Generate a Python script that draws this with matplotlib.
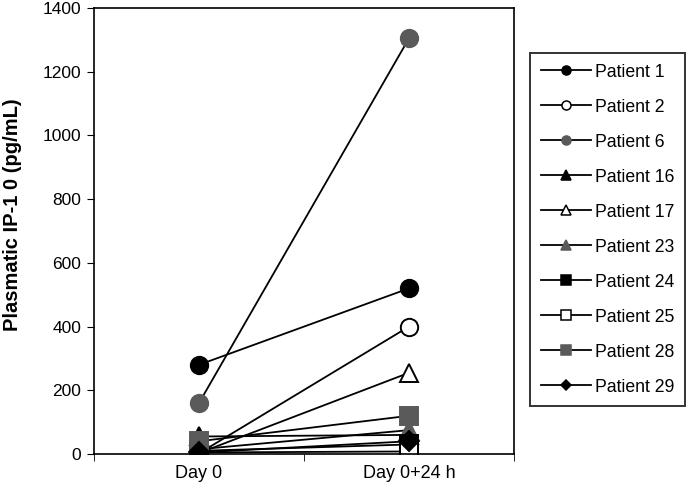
import matplotlib
matplotlib.use("Agg")
import matplotlib.pyplot as plt
from matplotlib.lines import Line2D

plt.rcParams['font.family'] = ['Liberation Sans', 'DejaVu Sans']

days = ["Day 0", "Day 0+24 h"]
patients = ["Patient 1", "Patient 2", "Patient 6", "Patient 16", "Patient 17",
            "Patient 23", "Patient 24", "Patient 25", "Patient 28", "Patient 29"]
day0 = [280, 2, 160, 55, 3, 15, 10, 5, 40, 5]
day24 = [520, 400, 1305, 60, 255, 75, 30, 8, 120, 40]

# marker, face colour
styles = [("o", "black"), ("o", "white"), ("o", "#5a5a5a"),
          ("^", "black"), ("^", "white"), ("^", "#5a5a5a"),
          ("s", "black"), ("s", "white"), ("s", "#5a5a5a"),
          ("D", "black")]

fig = plt.figure(figsize=(6.89, 4.86), dpi=100)
ax = fig.add_axes([0.1364, 0.0658, 0.6096, 0.9177])

x = [0, 1]
handles = []
for i, name in enumerate(patients):
    m, fc = styles[i]
    ms = 10 if m == "D" else 12.5
    ec = "black" if fc != "#5a5a5a" else "#5a5a5a"
    ax.plot(x, [day0[i], day24[i]], color="black", lw=1.3, marker=m, ms=ms,
            mfc=fc, mec=ec, mew=1.4)
    handles.append(Line2D([0], [0], color="black", lw=1.3, marker=m,
                          ms=5.5 if m == "D" else 6.5, mfc=fc, mec=ec, mew=1.1,
                          label=name))

ax.set_xlim(-0.5, 1.5)
ax.set_ylim(0, 1400)
ax.set_yticks(range(0, 1401, 200))
ax.set_xticks(x)
ax.set_xticklabels(days)
ax.set_xticks([-0.5, 0.5, 1.5], minor=True)
ax.tick_params(axis="x", which="major", length=0, labelsize=13, pad=8)
ax.tick_params(axis="x", which="minor", length=5, direction="out")
ax.tick_params(axis="y", labelsize=12.5, length=5, direction="out", pad=4)
ax.set_ylabel("Plasmatic IP-1 0 (pg/mL)", fontsize=14.5, fontweight="bold")
ax.yaxis.set_label_coords(-0.172, 0.536)
for s in ax.spines.values():
    s.set_linewidth(1.2)

leg = fig.legend(handles=handles, loc="upper left",
                 bbox_to_anchor=(530 / 689, 1 - 53 / 486), frameon=True,
                 fancybox=False, edgecolor="black", fontsize=12.7,
                 handlelength=2.85, labelspacing=1.02, borderpad=0.6,
                 handletextpad=0.25, borderaxespad=0)
leg.get_frame().set_linewidth(1.4)

fig.savefig("out.png", dpi=100)
